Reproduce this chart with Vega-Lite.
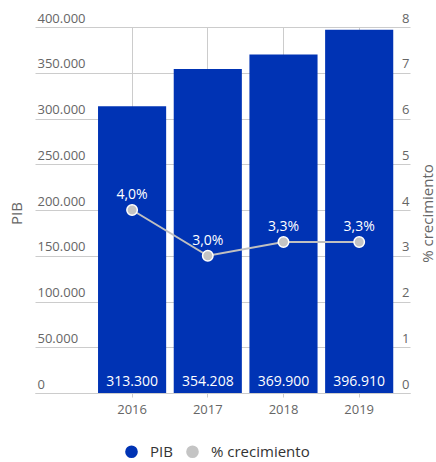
{
  "$schema": "https://vega.github.io/schema/vega-lite/v6.json",
  "autosize": "none",
  "width": 375,
  "height": 366,
  "padding": {"left": 35, "top": 27, "right": 26, "bottom": 69},
  "background": "white",
  "data": {
    "values": [
      {"year": "2016", "PIB": 313300, "crec": 4.0, "crecLabel": "4,0%"},
      {"year": "2017", "PIB": 354208, "crec": 3.0, "crecLabel": "3,0%"},
      {"year": "2018", "PIB": 369900, "crec": 3.3, "crecLabel": "3,3%"},
      {"year": "2019", "PIB": 396910, "crec": 3.3, "crecLabel": "3,3%"}
    ]
  },
  "encoding": {
    "x": {
      "field": "year",
      "type": "nominal",
      "title": null,
      "scale": {"paddingInner": 0.1, "paddingOuter": 0.527, "align": 0.79},
      "axis": {
        "labelAngle": 0,
        "labelColor": "#666666",
        "labelFontSize": 13,
        "labelFont": "Open Sans",
        "labelPadding": 6,
        "domainColor": "#cccccc",
        "tickColor": "#cccccc",
        "tickSize": 4,
        "grid": true,
        "gridColor": "#cccccc",
        "zindex": 0
      }
    }
  },
  "layer": [
    {
      "layer": [
        {
          "mark": {"type": "bar"},
          "encoding": {
            "y": {
              "field": "PIB",
              "type": "quantitative",
              "scale": {"domain": [0, 400000], "nice": false},
              "axis": {
                "title": "PIB",
                "titleX": -19,
                "titleY": 186,
                "titleAngle": -90,
                "titleAlign": "center",
                "titleBaseline": "middle",
                "titleFont": "Open Sans",
                "titleFontSize": 15,
                "titleFontWeight": "normal",
                "titleColor": "#666666",
                "values": [0, 50000, 100000, 150000, 200000, 250000, 300000, 350000, 400000],
                "format": ",.0f",
                "labelAlign": "left",
                "labelBaseline": "alphabetic",
                "labelPadding": -2,
                "labelOffset": -5,
                "labelColor": "#666666",
                "labelFontSize": 13,
                "labelFont": "Open Sans",
                "ticks": false,
                "domain": false,
                "grid": true,
                "gridColor": "#cccccc",
                "zindex": 0
              }
            },
            "color": {"datum": "PIB", "type": "nominal"}
          }
        },
        {
          "mark": {"type": "text", "color": "white", "fontSize": 14, "font": "Open Sans", "baseline": "bottom", "dy": -4},
          "encoding": {
            "y": {"datum": 0, "type": "quantitative"},
            "text": {"field": "PIB", "type": "quantitative", "format": ",.0f"}
          }
        }
      ]
    },
    {
      "layer": [
        {
          "mark": {"type": "line", "color": "#c0c0c0", "strokeWidth": 2},
          "encoding": {
            "y": {
              "field": "crec",
              "type": "quantitative",
              "scale": {"domain": [0, 8], "nice": false},
              "axis": {
                "orient": "right",
                "title": "% crecimiento",
                "titleX": 17,
                "titleY": 186,
                "titleAngle": -90,
                "titleAlign": "center",
                "titleBaseline": "middle",
                "titleFont": "Open Sans",
                "titleFontSize": 15,
                "titleFontWeight": "normal",
                "titleColor": "#666666",
                "values": [0, 1, 2, 3, 4, 5, 6, 7, 8],
                "labelAlign": "right",
                "labelBaseline": "alphabetic",
                "labelPadding": -1,
                "labelOffset": -5,
                "labelColor": "#666666",
                "labelFontSize": 13,
                "labelFont": "Open Sans",
                "ticks": false,
                "domain": false,
                "grid": false
              }
            }
          }
        },
        {
          "mark": {"type": "point", "filled": true, "size": 110, "stroke": "white", "strokeWidth": 1.5, "opacity": 1},
          "encoding": {
            "y": {"field": "crec", "type": "quantitative"},
            "color": {"datum": "% crecimiento", "type": "nominal"}
          }
        },
        {
          "mark": {"type": "text", "color": "white", "fontSize": 14, "font": "Open Sans", "baseline": "bottom", "dy": -8},
          "encoding": {
            "y": {"field": "crec", "type": "quantitative"},
            "text": {"field": "crecLabel", "type": "nominal"}
          }
        }
      ]
    }
  ],
  "resolve": {"scale": {"y": "independent"}},
  "config": {
    "locale": {"number": {"decimal": ",", "thousands": ".", "grouping": [3], "currency": ["", " €"]}},
    "view": {"stroke": null},
    "range": {"category": ["#0033b4", "#c4c4c4"]},
    "legend": {
      "orient": "none",
      "legendX": 89,
      "legendY": 417,
      "direction": "horizontal",
      "title": null,
      "symbolType": "circle",
      "symbolSize": 160,
      "symbolStrokeWidth": 0,
      "labelFont": "Open Sans",
      "labelFontSize": 15,
      "labelColor": "#333333",
      "labelOffset": 11,
      "columnPadding": 12
    }
  }
}
